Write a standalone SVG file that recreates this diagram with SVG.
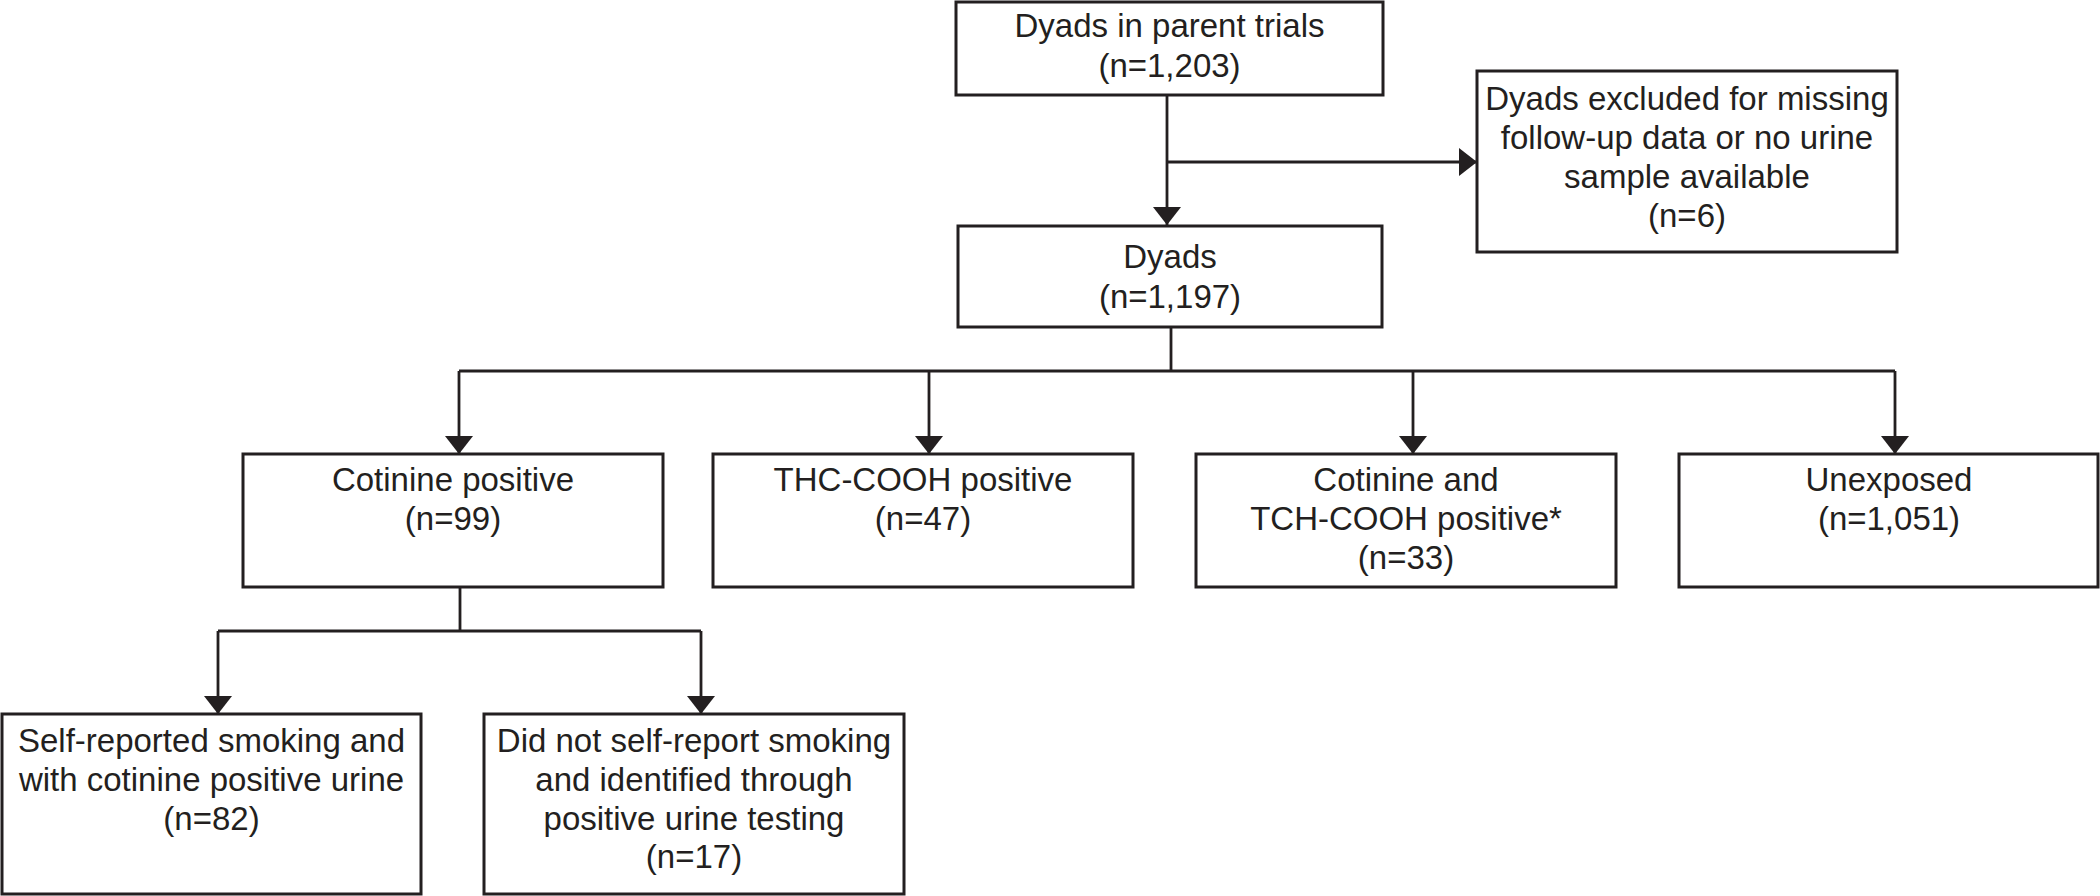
<svg xmlns="http://www.w3.org/2000/svg" width="2100" height="896" viewBox="0 0 2100 896">
<style>
.box{fill:#ffffff;stroke:#231f20;stroke-width:3}
.t{font-family:"Liberation Sans",Arial,sans-serif;font-size:33px;fill:#231f20;text-anchor:middle}
.c{fill:none;stroke:#231f20;stroke-width:2.8}
.a{marker-end:url(#arr)}
</style>
<defs>
<marker id="arr" viewBox="0 0 18 28" markerWidth="18" markerHeight="28" refX="18" refY="14" orient="auto" markerUnits="userSpaceOnUse">
<path d="M0,0 L18,14 L0,28 Z" fill="#231f20"/>
</marker>
</defs>
<rect width="2100" height="896" fill="#ffffff"/>
<g id="connectors">
<path class="c a" d="M1167,95 V225"/>
<path class="c a" d="M1167,162 H1477"/>
<path class="c" d="M1171,327 V371"/>
<path class="c" d="M459,371 H1895"/>
<path class="c a" d="M459,371 V454"/>
<path class="c a" d="M929,371 V454"/>
<path class="c a" d="M1413,371 V454"/>
<path class="c a" d="M1895,371 V454"/>
<path class="c" d="M460,587 V631"/>
<path class="c" d="M218,631 H701"/>
<path class="c a" d="M218,631 V714"/>
<path class="c a" d="M701,631 V714"/>
</g>
<g id="n_parent">
<rect class="box" x="956" y="2" width="427" height="93"/>
<text class="t" x="1169.5" y="37">Dyads in parent trials</text>
<text class="t" x="1169.5" y="77">(n=1,203)</text>
</g>
<g id="n_excluded">
<rect class="box" x="1477" y="71" width="420" height="181"/>
<text class="t" x="1687" y="110">Dyads excluded for missing</text>
<text class="t" x="1687" y="149">follow-up data or no urine</text>
<text class="t" x="1687" y="188">sample available</text>
<text class="t" x="1687" y="227">(n=6)</text>
</g>
<g id="n_dyads">
<rect class="box" x="958" y="226" width="424" height="101"/>
<text class="t" x="1170" y="268">Dyads</text>
<text class="t" x="1170" y="308">(n=1,197)</text>
</g>
<g id="n_cotinine">
<rect class="box" x="243" y="454" width="420" height="133"/>
<text class="t" x="453" y="491">Cotinine positive</text>
<text class="t" x="453" y="530">(n=99)</text>
</g>
<g id="n_thc">
<rect class="box" x="713" y="454" width="420" height="133"/>
<text class="t" x="923" y="491">THC-COOH positive</text>
<text class="t" x="923" y="530">(n=47)</text>
</g>
<g id="n_both">
<rect class="box" x="1196" y="454" width="420" height="133"/>
<text class="t" x="1406" y="491">Cotinine and</text>
<text class="t" x="1406" y="530">TCH-COOH positive*</text>
<text class="t" x="1406" y="569">(n=33)</text>
</g>
<g id="n_unexposed">
<rect class="box" x="1679" y="454" width="419" height="133"/>
<text class="t" x="1889" y="491">Unexposed</text>
<text class="t" x="1889" y="530">(n=1,051)</text>
</g>
<g id="n_selfreport">
<rect class="box" x="2" y="714" width="419" height="180"/>
<text class="t" x="211.5" y="752">Self-reported smoking and</text>
<text class="t" x="211.5" y="791">with cotinine positive urine</text>
<text class="t" x="211.5" y="830">(n=82)</text>
</g>
<g id="n_noreport">
<rect class="box" x="484" y="714" width="420" height="180"/>
<text class="t" x="694" y="752">Did not self-report smoking</text>
<text class="t" x="694" y="791">and identified through</text>
<text class="t" x="694" y="830">positive urine testing</text>
<text class="t" x="694" y="868">(n=17)</text>
</g>
</svg>
